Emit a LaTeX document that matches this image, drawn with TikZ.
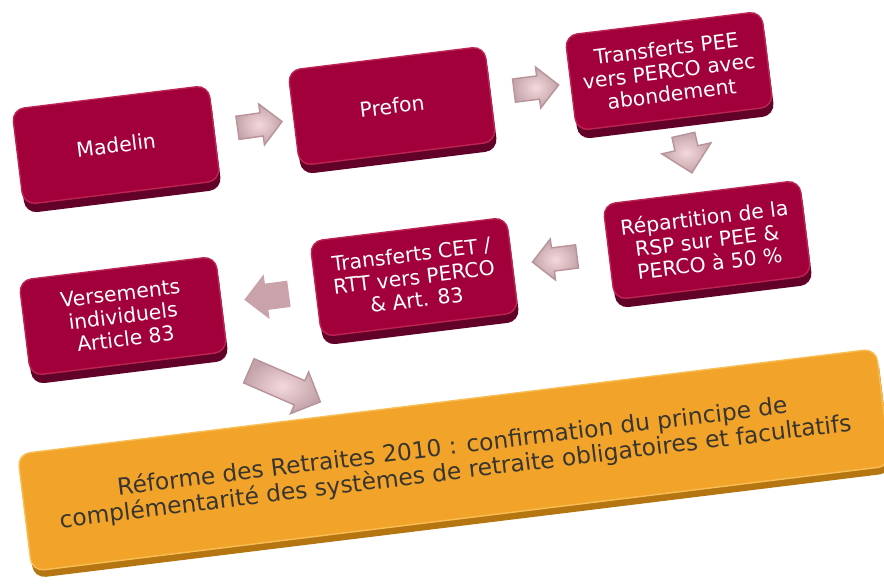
\documentclass[tikz,border=0pt]{standalone}
\usepackage{fontspec}
\setmainfont{DejaVu Sans}
\usepackage{xcolor}
\usepackage{tikz}
\usetikzlibrary{positioning,calc,shapes.arrows,shadows}

\definecolor{bordeaux}{HTML}{A1003A}
\definecolor{bordeauxclair}{HTML}{BC2452}
\definecolor{bordeauxfonce}{HTML}{620228}
\definecolor{orangebloc}{HTML}{F2A42A}
\definecolor{orangeclair}{HTML}{F8BE55}
\definecolor{orangefonce}{HTML}{B57510}
\definecolor{texteorange}{HTML}{38352F}
\definecolor{roseclair}{HTML}{F4D8DC}
\definecolor{rosefonce}{HTML}{B8939A}
\definecolor{roseplat}{HTML}{C9A2AA}

\newcommand{\blocfont}{\fontsize{11.6}{13}\selectfont}
\newcommand{\ciblefont}{\fontsize{13.3}{14.4}\selectfont}

\begin{document}
\begin{tikzpicture}[x=0.02cm, y=-0.02cm,
						carte/.style={rectangle, rounded corners=7pt, rotate=7, line width=0.8pt, align=center},
						bloc/.style={carte, fill=bordeaux, draw=bordeauxclair, minimum width=3.96cm, minimum height=1.92cm, text=white, font=\blocfont, general shadow={fill=bordeauxfonce, shadow xshift=1pt, shadow yshift=-5pt}},
						cible/.style={carte, fill=orangebloc, draw=orangeclair, text=texteorange, font=\ciblefont, minimum width=17.3cm, minimum height=2.36cm, general shadow={fill=orangefonce, shadow xshift=1pt, shadow yshift=-4pt}},
						fleche/.style={single arrow, inner sep=0.22cm, minimum height=0.9cm, minimum width=0.82cm, single arrow head extend=0.18cm, sloped, allow upside down},
						relief/.style={fleche, draw=rosefonce, line width=0.8pt, inner color=roseclair, outer color=rosefonce!85!white},
						plate/.style={fleche, fill=roseplat}
						]
						\useasboundingbox (0,0) rectangle (884,586);
						\fill[white] (0,0) rectangle (884,586);
						
						\node[bloc] (madelin) at (116,145) {Madelin};
						\node[bloc] (prefon) at (392,106) {Prefon};
						\node[bloc] (pee) at (669,71) {Transferts PEE\\vers PERCO avec\\abondement};
						\node[bloc] (rsp) at (707,240) {Répartition de la\\RSP sur PEE \&\\PERCO à 50 \%};
						\node[bloc] (cet) at (414,277) {Transferts CET /\\RTT vers PERCO\\\& Art. 83};
						\node[bloc] (versements) at (123,316) {Versements\\individuels\\Article 83};
						\node[cible] (reforme) at (454,460) {Réforme des Retraites 2010 : confirmation du principe de\\complémentarité des systèmes de retraite obligatoires et facultatifs};
						
						\path (madelin) -- (prefon) node[relief, midway] (f1) {};
						\path (prefon) -- (pee) node[relief, midway] (f2) {};
						\path (pee) -- (rsp) node[relief, pos=0.4, minimum width=0.98cm, minimum height=0.78cm, single arrow head extend=0.27cm] (f3) {};
						\path (rsp) -- (cet) node[relief, midway] (f4) {};
						\path (cet) -- (versements) node[plate, pos=0.45, minimum width=0.9cm, inner sep=0.25cm] (f5) {};
						\path (versements) -- (reforme) node[relief, midway, minimum height=1.56cm, minimum width=0.88cm, inner sep=0.25cm, single arrow head extend=0.19cm] (f6) {};
					\end{tikzpicture}
\end{document}
